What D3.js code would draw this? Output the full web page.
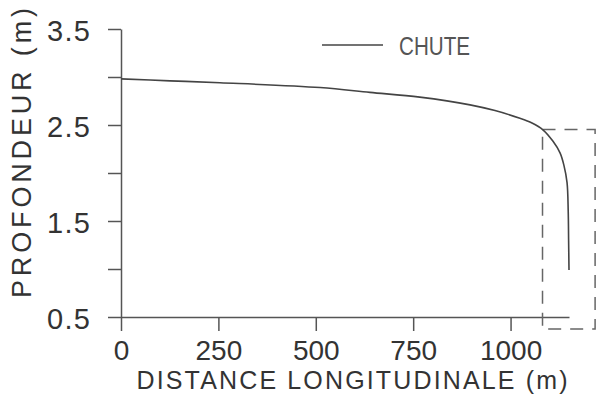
<!DOCTYPE html>
<html><head><meta charset="utf-8">
<script src="https://cdn.jsdelivr.net/npm/d3@7"></script>
<style>
html,body{margin:0;padding:0;background:#fff;}
text{font-family:"Liberation Sans",Arial,sans-serif;}
</style></head>
<body><svg id="chart" width="599" height="411"></svg>
<script>
// Data
const distance = [0, 126, 254, 511, 639, 767, 896, 960, 1024, 1055, 1083, 1109, 1127, 1137, 1145, 1148, 1149, 1150];
const depth    = [2.98, 2.96, 2.94, 2.89, 2.84, 2.79, 2.71, 2.65, 2.57, 2.52, 2.45, 2.33, 2.21, 2.08, 1.90, 1.60, 1.30, 0.99];
const xTicks = [0, 250, 500, 750, 1000];
const yMajorTicks = [0.5, 1.5, 2.5, 3.5];
const yMinorTicks = [1.0, 2.0, 3.0];
const zoomBoxX = [1082, 1217];
const zoomBoxY = [0.375, 2.453];
const seriesName = "CHUTE";
const xTitle = "DISTANCE LONGITUDINALE (m)";
const yTitle = "PROFONDEUR (m)";

const svg = d3.select("#chart");
const x = d3.scaleLinear().domain([0, 1150]).range([121, 569]);
const y = d3.scaleLinear().domain([0.5, 3.5]).range([317, 29]);
const axisColor = "#555";
const textColor = "#333";

// X axis
const gx = svg.append("g").attr("transform", `translate(0,${y(0.5)})`)
  .call(d3.axisBottom(x).tickValues(xTicks).tickSize(14).tickSizeOuter(0).tickFormat(d3.format("d")));
gx.select(".domain").attr("stroke", axisColor).attr("stroke-width", 1.5);
gx.selectAll(".tick line").attr("stroke", axisColor).attr("stroke-width", 1.5);
gx.selectAll(".tick text").attr("fill", textColor).attr("font-size", 28)
  .attr("font-family", "Liberation Sans, Arial, sans-serif").attr("y", 43).attr("dy", 0);

// Y axis
const gy = svg.append("g").attr("transform", `translate(${x(0)},0)`)
  .call(d3.axisLeft(y).tickValues(yMajorTicks.concat(yMinorTicks)).tickSize(13).tickSizeOuter(0)
    .tickFormat(d => yMajorTicks.includes(d) ? d3.format(".1f")(d) : ""));
gy.select(".domain").attr("stroke", axisColor).attr("stroke-width", 1.5);
gy.selectAll(".tick line").attr("stroke", axisColor).attr("stroke-width", 1.5);
gy.selectAll(".tick text").attr("fill", textColor).attr("font-size", 29)
  .attr("font-family", "Liberation Sans, Arial, sans-serif").attr("x", -31).attr("dy", 11)
  .attr("textLength", 43).attr("lengthAdjust", "spacing");

// Titles
svg.append("text").attr("x", 352).attr("y", 389).attr("text-anchor", "middle")
  .attr("font-size", 25).attr("fill", textColor).attr("textLength", 431).attr("lengthAdjust", "spacing")
  .text(xTitle);
svg.append("text").attr("transform", "translate(31,153) rotate(-90)").attr("text-anchor", "middle")
  .attr("font-size", 27).attr("fill", textColor).attr("textLength", 290).attr("lengthAdjust", "spacing")
  .text(yTitle);

// Dashed zoom box
svg.append("rect")
  .attr("x", x(zoomBoxX[0])).attr("y", y(zoomBoxY[1]))
  .attr("width", x(zoomBoxX[1]) - x(zoomBoxX[0])).attr("height", y(zoomBoxY[0]) - y(zoomBoxY[1]))
  .attr("fill", "none").attr("stroke", "#666").attr("stroke-width", 1.5).attr("stroke-dasharray", "13,9");

// Curve
const pts = distance.map((d, i) => [d, depth[i]]);
svg.append("path").datum(pts)
  .attr("d", d3.line().x(d => x(d[0])).y(d => y(d[1])).curve(d3.curveCatmullRom.alpha(0.5)))
  .attr("fill", "none").attr("stroke", "#444").attr("stroke-width", 1.6);

// Legend
svg.append("line").attr("x1", 322).attr("x2", 383).attr("y1", 45).attr("y2", 45)
  .attr("stroke", "#444").attr("stroke-width", 1.4);
svg.append("text").attr("x", 399).attr("y", 55).attr("font-size", 25).attr("fill", "#555")
  .attr("textLength", 71).attr("lengthAdjust", "spacingAndGlyphs").text(seriesName);
</script></body></html>
